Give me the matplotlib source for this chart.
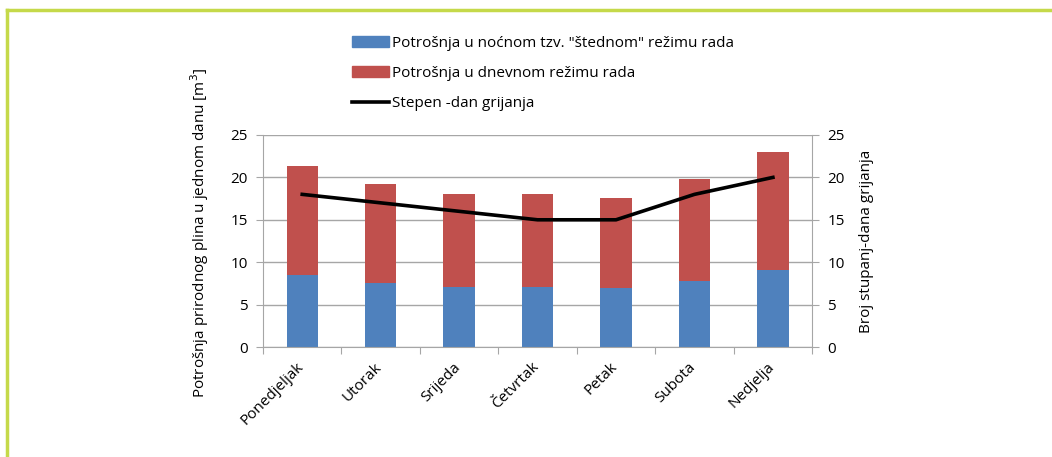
import matplotlib.pyplot as plt
from matplotlib.lines import Line2D
from matplotlib.patches import Patch
import numpy as np

plt.rcParams['font.family'] = ['Open Sans', 'DejaVu Sans']

# dani u tjednu
dani = ['Ponedjeljak', 'Utorak', 'Srijeda', 'Četvrtak', 'Petak', 'Subota', 'Nedjelja']
nocna = [8.5, 7.5, 7.1, 7.1, 6.9, 7.8, 9.1]
dnevna = [12.9, 11.7, 11.0, 11.0, 10.7, 12.0, 13.9]
stupanj_dani = [18, 17, 16, 15, 15, 18, 20]

plava = '#4f81bd'
crvena = '#c0504d'
siva = '#a6a6a6'
fs = 11

fig = plt.figure(figsize=(10.52, 4.57), dpi=100)
ax = fig.add_axes([0.25, 0.2407, 0.522, 0.4639])
x = np.arange(len(dani))

ax.bar(x, nocna, width=0.4, color=plava, zorder=2)
ax.bar(x, dnevna, width=0.4, bottom=nocna, color=crvena, zorder=2)
ax.set_xlim(-0.5, 6.5)
ax.set_ylim(0, 25)
ax.set_yticks(range(0, 26, 5))
ax.yaxis.grid(True, color=siva, lw=1, zorder=0)
ax.set_xticks(np.arange(-0.5, 7, 1))
ax.set_xticklabels([])
ax.set_xticks(x - 0.08, minor=True)
ax.set_xticklabels(dani, minor=True, rotation=45, ha='right', rotation_mode='anchor', fontsize=fs)
ax.tick_params(axis='x', which='minor', length=0, pad=9)
ax.tick_params(axis='x', which='major', length=5, color=siva)
ax.tick_params(axis='y', length=5, color=siva, labelsize=fs, pad=6)
for s in ['top', 'right']:
    ax.spines[s].set_visible(False)
for s in ['left', 'bottom']:
    ax.spines[s].set_color(siva)
ax.set_ylabel('Potrošnja prirodnog plina u jednom danu [m$^3$]', fontsize=fs, labelpad=12)
ax.yaxis.set_label_coords(-0.095, 0.54)

ax2 = ax.twinx()
ax2.plot(x, stupanj_dani, color='black', lw=2.6, zorder=3)
ax2.set_ylim(0, 25)
ax2.set_yticks(range(0, 26, 5))
ax2.tick_params(axis='y', length=5, color=siva, labelsize=fs, pad=6)
for s in ['top', 'left', 'bottom']:
    ax2.spines[s].set_visible(False)
ax2.spines['right'].set_color(siva)
ax2.set_ylabel('Broj stupanj-dana grijanja', fontsize=fs, labelpad=10)

handles = [Patch(color=plava), Patch(color=crvena), Line2D([], [], color='black', lw=2.6)]
labels = ['Potrošnja u noćnom tzv. "štednom" režimu rada',
          'Potrošnja u dnevnom režimu rada',
          'Stepen -dan grijanja']
fig.legend(handles, labels, loc='upper left', bbox_to_anchor=(0.322, 0.952), frameon=False,
           fontsize=fs, handlelength=2.4, handleheight=0.7, handletextpad=0.2, labelspacing=1.0)

# okvir
fig.add_artist(Line2D([7 / 1052, 1], [1 - 10 / 457, 1 - 10 / 457], color='#c5d94a', lw=2.5, transform=fig.transFigure))
fig.add_artist(Line2D([7 / 1052, 7 / 1052], [0, 1 - 10 / 457], color='#c5d94a', lw=2.5, transform=fig.transFigure))

fig.savefig('out.png', dpi=100)
